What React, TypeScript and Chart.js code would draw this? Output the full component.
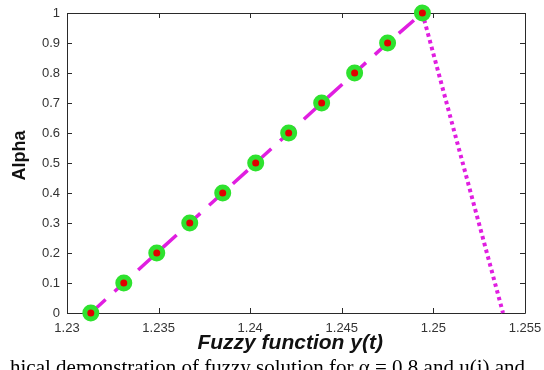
import React, { useEffect, useRef } from 'react';
import { Chart, registerables } from 'chart.js';

Chart.register(...registerables);

// Data
const alphaLevels = [0, 0.1, 0.2, 0.3, 0.4, 0.5, 0.6, 0.7, 0.8, 0.9, 1];
const fuzzyT = [1.2313, 1.2331, 1.2349, 1.2367, 1.2385, 1.2403, 1.2421, 1.2439, 1.2457, 1.2475, 1.2494];
const dropT = [1.2494, 1.2538];
const dropAlpha = [1, 0];
const xTickLabels = ['1.23', '1.235', '1.24', '1.245', '1.25', '1.255'];
const yTickLabels = ['0', '0.1', '0.2', '0.3', '0.4', '0.5', '0.6', '0.7', '0.8', '0.9', '1'];
const xTitle = 'Fuzzy function y(t)  ';
const yTitle = '   Alpha';
const caption = 'hical demonstration of fuzzy solution for \u03b1 = 0.8 and u(i) and';

const boxPlugin = {
  id: 'matlabBox',
  beforeDatasetsDraw(chart: any) {
    const { ctx, chartArea, scales } = chart;
    const { left, right, top, bottom } = chartArea;
    const tl = 5;
    ctx.save();
    ctx.strokeStyle = '#2a2a2a';
    ctx.lineWidth = 1;
    ctx.beginPath();
    ctx.rect(Math.round(left) + 0.5, Math.round(top) + 0.5, Math.round(right - left), Math.round(bottom - top));
    ctx.stroke();
    ctx.beginPath();
    scales.x.ticks.forEach((t: any) => {
      const px = Math.round(scales.x.getPixelForValue(t.value)) + 0.5;
      ctx.moveTo(px, bottom);
      ctx.lineTo(px, bottom - tl);
      ctx.moveTo(px, top);
      ctx.lineTo(px, top + tl);
    });
    scales.y.ticks.forEach((t: any) => {
      const py = Math.round(scales.y.getPixelForValue(t.value)) + 0.5;
      ctx.moveTo(left, py);
      ctx.lineTo(left + tl, py);
      ctx.moveTo(right, py);
      ctx.lineTo(right - tl, py);
    });
    ctx.stroke();
    ctx.restore();
  },
};

export default function App() {
  const canvasRef = useRef<HTMLCanvasElement | null>(null);

  useEffect(() => {
    const canvas = canvasRef.current;
    if (!canvas) return;
    const pointData = fuzzyT.map((t, i) => ({ x: t, y: alphaLevels[i] }));
    const dropData = dropT.map((t, i) => ({ x: t, y: dropAlpha[i] }));
    const chart = new Chart(canvas, {
      type: 'scatter',
      data: {
        datasets: [
          {
            data: pointData,
            showLine: true,
            borderColor: '#e01ee0',
            borderWidth: 3.5,
            borderDash: [20, 12],
            borderCapStyle: 'butt',
            pointRadius: 6,
            pointBorderWidth: 5,
            pointBorderColor: '#2ee22e',
            pointBackgroundColor: '#e00000',
            pointHoverRadius: 6,
            clip: false,
          } as any,
          {
            data: dropData,
            showLine: true,
            borderColor: '#e01ee0',
            borderWidth: 4,
            borderDash: [3.5, 3.5],
            borderCapStyle: 'butt',
            pointRadius: 0,
            clip: false,
          } as any,
        ],
      },
      options: {
        animation: false,
        responsive: false,
        maintainAspectRatio: false,
        events: [],
        layout: { padding: { top: 13, right: 19, left: 0, bottom: 0 } },
        plugins: {
          legend: { display: false },
          tooltip: { enabled: false },
        },
        scales: {
          x: {
            type: 'linear',
            min: 1.23,
            max: 1.255,
            grid: { display: false, drawTicks: false },
            border: { display: false },
            ticks: {
              stepSize: 0.005,
              padding: 8,
              color: '#333333',
              font: { family: 'Liberation Sans, Arial, sans-serif', size: 13 },
              maxRotation: 0,
              autoSkip: false,
              callback: (_v: any, i: number) => xTickLabels[i],
            },
            title: {
              display: true,
              text: xTitle,
              color: '#111111',
              font: { family: 'Liberation Sans, Arial, sans-serif', size: 21, weight: 'bold', style: 'italic' },
              padding: { top: 0, bottom: 14 },
            },
            afterFit: (scale: any) => {
              scale.height = 57;
              scale.paddingLeft = 0;
              scale.paddingRight = 0;
            },
          },
          y: {
            type: 'linear',
            min: 0,
            max: 1,
            grid: { display: false, drawTicks: false },
            border: { display: false },
            ticks: {
              stepSize: 0.1,
              padding: 7,
              color: '#333333',
              font: { family: 'Liberation Sans, Arial, sans-serif', size: 13 },
              autoSkip: false,
              callback: (_v: any, i: number) => yTickLabels[i],
            },
            title: {
              display: true,
              text: yTitle,
              color: '#111111',
              font: { family: 'Liberation Sans, Arial, sans-serif', size: 18, weight: 'bold' },
              padding: { top: 9, bottom: 0 },
            },
            afterFit: (scale: any) => {
              scale.width = 67;
              scale.paddingTop = 0;
              scale.paddingBottom = 0;
            },
          },
        },
      } as any,
      plugins: [boxPlugin],
    });
    return () => chart.destroy();
  }, []);

  return (
    <div
      style={{
        position: 'fixed',
        left: 0,
        top: 0,
        width: 544,
        height: 370,
        overflow: 'hidden',
        background: '#ffffff',
      }}
    >
      <canvas ref={canvasRef} width={544} height={370} style={{ display: 'block', width: 544, height: 370 }} />
      <div
        style={{
          position: 'absolute',
          left: 10,
          top: 355,
          whiteSpace: 'nowrap',
          fontFamily: '"Liberation Serif", "Times New Roman", serif',
          fontSize: 21,
          lineHeight: '24px',
          color: '#000000',
        }}
      >
        {caption}
      </div>
    </div>
  );
}
